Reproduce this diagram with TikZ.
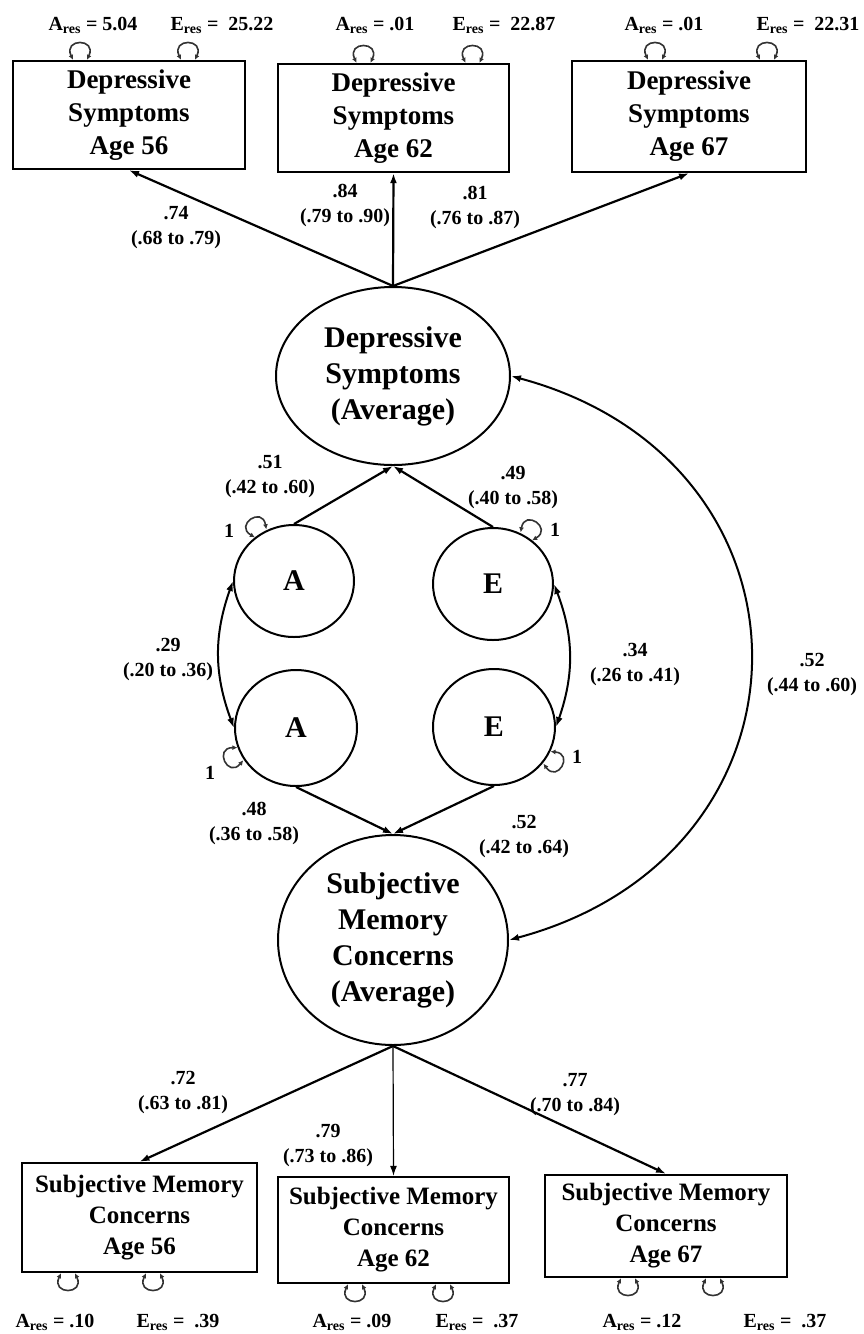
\documentclass[tikz,border=0pt]{standalone}
\usepackage{fontspec}
\setmainfont{Liberation Serif}
\usetikzlibrary{arrows.meta,calc,shapes.geometric}
\def\drawload{\draw[line width=2.2pt,-{Latex[length=10pt,width=7pt]}]}
\def\drawcov{\draw[line width=2pt,{Latex[length=10pt,width=7pt]}-{Latex[length=10pt,width=7pt]}]}
\def\obsnode{\node[draw,line width=2.4pt,inner sep=0pt,align=center,font=\bfseries\fontsize{27}{33}\selectfont]}
\def\latnode{\node[ellipse,draw,line width=2pt,inner sep=0pt,align=center,font=\bfseries\fontsize{30}{36}\selectfont]}
\newcommand\resloop[3]{\draw[line width=1.6pt,black!80,{Latex[length=5pt,width=5pt]}-{Latex[length=5pt,width=5pt]}]
  ($(#1)+(#2,0)+(#3+90:7)$) .. controls +(#3+25:24) and +(#3-25:24) .. ($(#1)+(#2,0)+(#3-90:7)$);}

\begin{document}
\begin{tikzpicture}[x=1pt,y=1pt,
  est/.style={align=center,font=\bfseries\fontsize{20}{25}\selectfont},
  resvar/.style={font=\bfseries\fontsize{20}{24}\selectfont}]
\useasboundingbox (0,0) rectangle (863,-1334);
% observed depressive symptoms
\obsnode[minimum width=232pt,minimum height=108pt] (dsA) at (129,-115) {Depressive\\Symptoms\\Age 56};
\obsnode[minimum width=231pt,minimum height=108pt] (dsB) at (393.5,-118) {Depressive\\Symptoms\\Age 62};
\obsnode[minimum width=234pt,minimum height=111pt] (dsC) at (689,-116.5) {Depressive\\Symptoms\\Age 67};
% latent factors
\latnode[minimum width=234pt,minimum height=178pt] (DS) at (393,-376) {Depressive\\Symptoms\\(Average)};
\latnode[minimum width=120pt,minimum height=112pt] (A1) at (294,-581) {A};
\latnode[minimum width=120pt,minimum height=112pt] (E1) at (493,-584) {E};
\latnode[minimum width=122pt,minimum height=116pt] (A2) at (296,-728) {A};
\latnode[minimum width=122pt,minimum height=116pt] (E2) at (494,-727) {E};
\latnode[minimum width=230pt,minimum height=210pt] (SMC) at (393,-940) {Subjective\\Memory\\Concerns\\(Average)};
% observed memory concerns
\obsnode[minimum width=235pt,minimum height=109pt,font=\bfseries\fontsize{25}{31}\selectfont] (smA) at (139.5,-1217.5) {Subjective Memory\\Concerns\\Age 56};
\obsnode[minimum width=231pt,minimum height=106pt,font=\bfseries\fontsize{25}{31}\selectfont] (smB) at (393.5,-1230) {Subjective Memory\\Concerns\\Age 62};
\obsnode[minimum width=242pt,minimum height=102pt,font=\bfseries\fontsize{25}{31}\selectfont] (smC) at (666,-1226) {Subjective Memory\\Concerns\\Age 67};
% loadings
\drawload (DS.north) -- (dsA.south);
\drawload (DS.north) -- (dsB.south);
\drawload (DS.north) -- (dsC.south);
\drawload (A1.north) -- (DS.south);
\drawload (E1.north) -- (DS.south);
\drawload (A2.south) -- (SMC.north);
\drawload (E2.south) -- (SMC.north);
\drawload (SMC.south) -- (smA.north);
\drawload[line width=1.2pt] (SMC.south) -- (smB.north);
\drawload (SMC.south) -- (smC.north);
% correlations
\drawcov (A1.west) to[bend right=20] (A2.west);
\drawcov (E1.east) to[bend left=20] (E2.east);
\drawcov (DS.east) to[out=-15,in=15,looseness=1.5] (SMC.east);
% residual variances
\resloop{dsA.north}{-49}{90}
\resloop{dsA.north}{59}{90}
\resloop{dsB.north}{-30}{90}
\resloop{dsB.north}{79}{90}
\resloop{dsC.north}{-34}{90}
\resloop{dsC.north}{78}{90}
\resloop{smA.south}{-71.5}{270}
\resloop{smA.south}{13.5}{270}
\resloop{smB.south}{-38.5}{270}
\resloop{smB.south}{49.5}{270}
\resloop{smC.south}{-38}{270}
\resloop{smC.south}{47}{270}
\resloop{A1.125}{0}{125}
\resloop{E1.55}{0}{55}
\resloop{A2.205}{0}{205}
\resloop{E2.330}{0}{330}
\node[resvar] (oneA1) at (229,-531) {1};
\node[resvar] (oneE1) at (555,-530) {1};
\node[resvar] (oneA2) at (210,-773) {1};
\node[resvar] (oneE2) at (577,-757) {1};
% residual labels
\node[resvar] (resA1) at (93,-25) {A\textsubscript{res} = 5.04};
\node[resvar] (resE1) at (222,-25) {E\textsubscript{res} =\ \ 25.22};
\node[resvar] (resA2) at (375,-25) {A\textsubscript{res} = .01};
\node[resvar] (resE2) at (504,-25) {E\textsubscript{res} =\ \ 22.87};
\node[resvar] (resA3) at (664,-25) {A\textsubscript{res} = .01};
\node[resvar] (resE3) at (808,-25) {E\textsubscript{res} =\ \ 22.31};
\node[resvar] (resA4) at (55,-1322) {A\textsubscript{res} = .10};
\node[resvar] (resE4) at (178,-1322) {E\textsubscript{res} =\ \ .39};
\node[resvar] (resA5) at (352,-1322) {A\textsubscript{res} = .09};
\node[resvar] (resE5) at (477,-1322) {E\textsubscript{res} =\ \ .37};
\node[resvar] (resA6) at (642,-1322) {A\textsubscript{res} = .12};
\node[resvar] (resE6) at (785,-1322) {E\textsubscript{res} =\ \ .37};
% estimates
\node[est] (lamA) at (176,-228) {.74\\(.68 to .79)};
\node[est] (lamB) at (345,-205) {.84\\(.79 to .90)};
\node[est] (lamC) at (475,-207) {.81\\(.76 to .87)};
\node[est] (pathA1) at (270,-477) {.51\\(.42 to .60)};
\node[est] (pathE1) at (513,-487) {.49\\(.40 to .58)};
\node[est] (corA) at (168,-659) {.29\\(.20 to .36)};
\node[est] (corE) at (635,-664) {.34\\(.26 to .41)};
\node[est] (corDS) at (812,-674) {.52\\(.44 to .60)};
\node[est] (pathA2) at (254,-823) {.48\\(.36 to .58)};
\node[est] (pathE2) at (524,-836) {.52\\(.42 to .64)};
\node[est] (lamD) at (183,-1092) {.72\\(.63 to .81)};
\node[est] (lamE) at (328,-1145) {.79\\(.73 to .86)};
\node[est] (lamF) at (575,-1095) {.77\\(.70 to .84)};
\end{tikzpicture}
\end{document}
